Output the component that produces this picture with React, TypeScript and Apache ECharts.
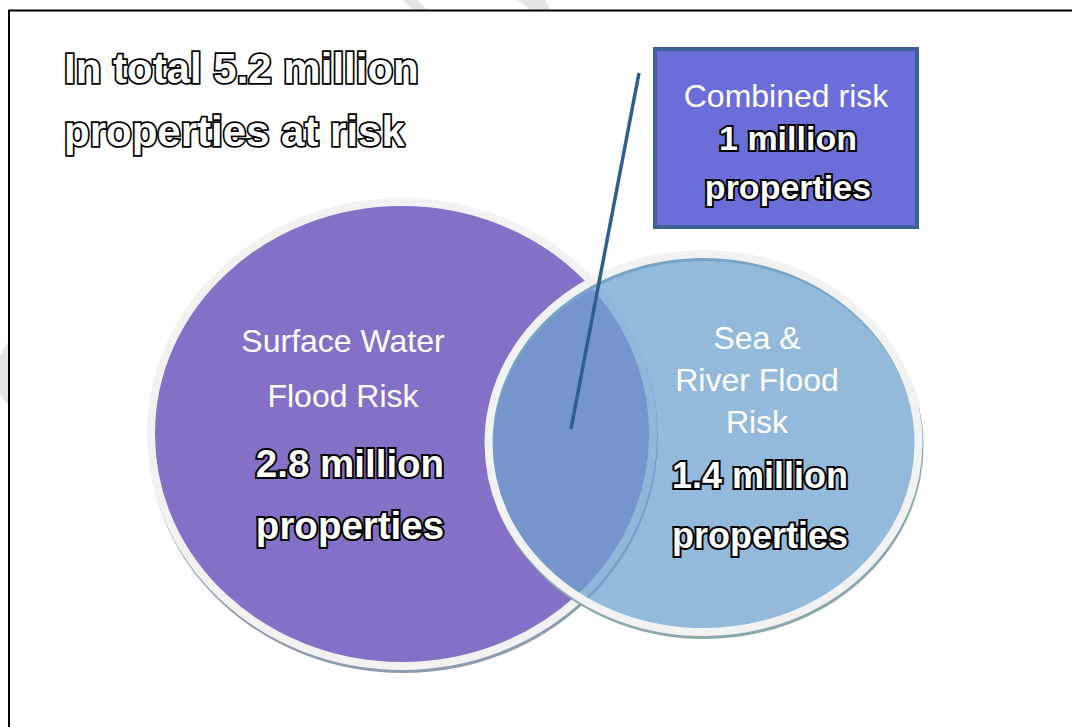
import React, { useEffect, useRef } from "react";
import * as echarts from "echarts";

// ---- data ----
const setLabels: string[][] = [
  ["Surface Water", "Flood Risk"],
  ["Sea &", "River Flood", "Risk"],
];
const setValues: number[] = [2.8, 1.4]; // million properties
const overlapLabel = "Combined risk";
const overlapValue = 1; // million properties
const totalValue = 5.2; // million properties
const unitWord = "million";
const itemWord = "properties";

// ---- layout / style ----
const W = 1072;
const H = 727;
const FONT = '"Liberation Sans", Arial, sans-serif';
const ellipses = [
  { cx: 402, cy: 434, rx: 251, ry: 232, fill: "#8470C6", shadow: "#8C9BB0" },
  { cx: 703.5, cy: 443, rx: 215, ry: 189, fill: "rgba(111,163,207,0.75)", shadow: "#8DA7AE" },
];

function outlineText(text: string, x: number, y: number, size: number, align = "center", lw = 4) {
  return {
    type: "text",
    z: 20,
    style: {
      text,
      x,
      y,
      align,
      verticalAlign: "middle",
      font: `bold ${size}px ${FONT}`,
      fill: "#ffffff",
      stroke: "#000000",
      lineWidth: lw,
      strokeFirst: true,
    },
  };
}

function plainText(text: string, x: number, y: number, size: number) {
  return {
    type: "text",
    z: 20,
    style: {
      text,
      x,
      y,
      align: "center",
      verticalAlign: "middle",
      font: `${size}px ${FONT}`,
      fill: "#ffffff",
    },
  };
}

export default function App() {
  const ref = useRef<HTMLDivElement>(null);
  useEffect(() => {
    if (!ref.current) return;
    const chart = echarts.init(ref.current, undefined, { renderer: "svg" });
    const g: any[] = [];

    // faint watermark fragments
    g.push({ type: "polygon", z: 0, shape: { points: [[403, 0], [418, 0], [426, 9], [412, 9]] }, style: { fill: "#E4E4E4" } });
    g.push({ type: "polygon", z: 0, shape: { points: [[517, 0], [545, 0], [550, 9], [530, 9]] }, style: { fill: "#E4E4E4" } });
    g.push({ type: "polygon", z: 0, shape: { points: [[0, 355], [8, 342], [8, 405], [0, 395]] }, style: { fill: "#E4E4E4" } });

    // frame
    g.push({ type: "line", z: 1, shape: { x1: 9, y1: 10, x2: 9, y2: H }, style: { stroke: "#000", lineWidth: 2 } });
    g.push({ type: "line", z: 1, shape: { x1: 8, y1: 10.5, x2: W, y2: 10.5 }, style: { stroke: "#000", lineWidth: 2 } });

    // circles
    ellipses.forEach((e, i) => {
      g.push({
        type: "ellipse",
        z: 2 + i * 3,
        shape: { cx: e.cx + 1, cy: e.cy + 3, rx: e.rx, ry: e.ry },
        style: { fill: null, stroke: e.shadow, lineWidth: 8 },
      });
      g.push({
        type: "ellipse",
        z: 3 + i * 3,
        shape: { cx: e.cx, cy: e.cy, rx: e.rx, ry: e.ry },
        style: { fill: e.fill, stroke: "#F2F2F2", lineWidth: 8 },
      });
    });

    // leader line
    g.push({ type: "line", z: 12, shape: { x1: 639, y1: 73, x2: 571, y2: 429 }, style: { stroke: "#2F5F8F", lineWidth: 3.5 } });

    // combined box
    g.push({
      type: "rect",
      z: 13,
      shape: { x: 655, y: 49, width: 262, height: 178 },
      style: { fill: "#6B6DD9", stroke: "#3D6194", lineWidth: 4 },
    });
    g.push(plainText(overlapLabel, 786, 96, 32));
    g.push(outlineText(`${overlapValue} ${unitWord}`, 788, 138, 34));
    g.push(outlineText(itemWord, 788, 187, 34));

    // title
    g.push(outlineText(`In total ${totalValue} ${unitWord}`, 64, 68, 42, "left", 3.5));
    g.push(outlineText(`${itemWord} at risk`, 64, 131, 42, "left", 3.5));

    // purple labels
    g.push(plainText(setLabels[0][0], 343, 341, 32));
    g.push(plainText(setLabels[0][1], 343, 396, 32));
    g.push(outlineText(`${setValues[0]} ${unitWord}`, 350, 463, 38.5));
    g.push(outlineText(itemWord, 350, 525, 38.5));

    // blue labels
    g.push(plainText(setLabels[1][0], 757, 338, 32));
    g.push(plainText(setLabels[1][1], 757, 380, 32));
    g.push(plainText(setLabels[1][2], 757, 422, 32));
    g.push(outlineText(`${setValues[1]} ${unitWord}`, 760, 475, 36));
    g.push(outlineText(itemWord, 760, 535, 36));

    chart.setOption({
      animation: false,
      backgroundColor: "#ffffff",
      graphic: { elements: g },
    });
    return () => chart.dispose();
  }, []);
  return (
    <div
      ref={ref}
      style={{ position: "fixed", left: 0, top: 0, width: W, height: H, background: "#fff" }}
    />
  );
}
